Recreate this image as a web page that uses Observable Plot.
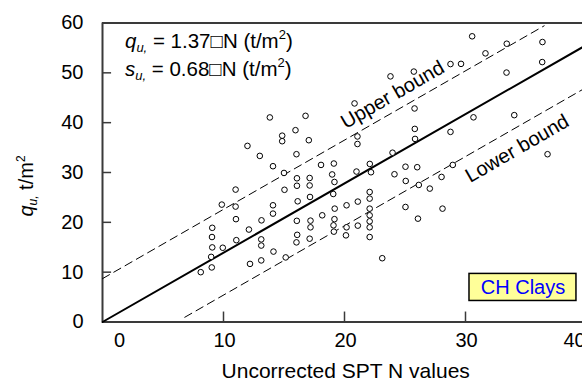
<!DOCTYPE html>
<html>
<head>
<meta charset="utf-8">
<script src="https://cdn.jsdelivr.net/npm/d3@7"></script>
<script src="https://cdn.jsdelivr.net/npm/@observablehq/plot@0.6"></script>
<style>
  html, body { margin: 0; padding: 0; background: #fff; overflow: hidden; }
  #chart { width: 582px; height: 385px; overflow: hidden; }
</style>
</head>
<body>
<div id="chart"></div>
<script>
// Uncorrected SPT N values (x) and unconfined compressive strength q_u (t/m2)
const sptN = [
  8.12, 9.03, 8.98, 9.07, 9.05, 9.07, 9.94, 9.86, 11.0, 11.03,
  11.06, 11.0, 12.1, 12.19, 11.98, 13.12, 13.12, 13.12, 13.14, 13.0,
  13.83, 14.09, 14.09, 14.09, 14.13, 14.85, 14.85, 15.0, 15.04, 15.14,
  15.95, 16.03, 16.07, 16.07, 16.13, 16.06, 16.09, 16.03, 16.78, 17.05,
  17.12, 17.12, 17.15, 17.19, 17.19, 17.12, 18.06, 18.16, 19.12, 18.98,
  19.17, 19.07, 19.19, 19.17, 19.09, 19.12, 20.17, 20.17, 20.12, 20.83,
  21.07, 21.07, 20.99, 21.1, 21.1, 22.09, 22.19, 22.08, 22.08, 22.08,
  22.08, 22.08, 22.08, 22.08, 23.12, 23.8, 23.97, 24.13, 25.04, 25.06,
  25.04, 25.73, 25.79, 25.81, 25.83, 26.01, 26.14, 26.07, 27.05, 28.02,
  28.1, 28.76, 29.63, 28.76, 28.95, 30.55, 30.66, 31.65, 33.41, 33.39,
  34.03, 36.36, 36.34, 36.78
];
const quValues = [
  10.0, 10.95, 13.07, 14.97, 17.05, 18.9, 14.9, 23.56, 23.16, 20.64,
  16.42, 26.57, 18.55, 11.66, 35.34, 12.36, 15.34, 16.58, 20.4, 33.33,
  41.05, 31.26, 23.42, 21.75, 14.13, 37.39, 36.28, 29.91, 26.53, 12.96,
  38.49, 33.67, 28.84, 27.34, 24.22, 20.3, 17.49, 15.98, 41.37, 36.48,
  28.9, 27.4, 25.09, 20.34, 19.0, 16.72, 31.52, 21.41, 31.8, 29.61,
  28.1, 25.69, 22.75, 20.64, 19.4, 18.13, 23.42, 19.0, 17.39, 43.86,
  37.23, 35.72, 30.19, 24.16, 19.34, 31.72, 30.05, 26.09, 24.76, 22.75,
  21.41, 20.2, 19.0, 17.05, 12.8, 49.29, 33.97, 29.65, 31.16, 28.3,
  23.08, 50.25, 42.85, 38.75, 36.74, 31.06, 27.5, 20.74, 26.77, 29.11,
  22.75, 51.76, 51.8, 38.15, 31.52, 57.33, 41.07, 53.91, 55.84, 50.05,
  41.51, 56.18, 52.16, 33.67
];

// Trend line and bounds as drawn (q = slope * N + offset)
const lineSlope = 1.39;
const upperOffset = 8.7;
const lowerOffset = -8.5;
const solidN = [0, 40];
const upperN = [0, 36.5];
const lowerN = [6.8, 40];

// Tick values / labels
const xTicks = [10, 20, 30];
const xZeroTick = [0];
const xLastTick = [40];
const yTicks = [0, 10, 20, 30, 40, 50, 60];
const xTickMarks = [10, 20, 30, 40];
const yTickMarks = [10, 20, 30, 40, 50];

const xLabel = "Uncorrected SPT N values";
const legendLabel = "CH Clays";
const upperLabel = "Upper bound";
const lowerLabel = "Lower bound";

const FONT = "'Liberation Sans', Arial, Helvetica, sans-serif";
const FS = 20;
const AXIS = "#3a3a3a";

const points = sptN.map((n, i) => ({N: n, q: quValues[i]}));
const mkLine = (ns, off) => ns.map(n => ({N: n, q: lineSlope * n + off}));

const tickText = {y: 0, text: d => String(d), dy: 19, lineAnchor: "middle", fontSize: FS, fill: "#000"};

const plot = Plot.plot({
  width: 620,
  height: 385,
  marginLeft: 102,
  marginRight: 34,
  marginTop: 22.5,
  marginBottom: 63.5,
  x: {domain: [0, 40], axis: null},
  y: {domain: [0, 60], axis: null},
  style: {fontFamily: FONT, maxWidth: "none", background: "transparent"},
  marks: [
    // frame
    Plot.ruleX([0], {stroke: AXIS, strokeWidth: 2}),
    Plot.ruleY([0], {stroke: AXIS, strokeWidth: 2}),
    Plot.ruleY([60], {stroke: AXIS, strokeWidth: 2}),
    // inward tick marks
    Plot.ruleY(yTickMarks, {y: d => d, x1: 0, x2: 0.75, stroke: AXIS, strokeWidth: 1.5}),
    Plot.ruleX(xTickMarks, {x: d => d, y1: 0, y2: 2, stroke: AXIS, strokeWidth: 1.5}),
    // tick labels
    Plot.text(yTicks, {x: 0, y: d => d, text: d => String(d), dx: -19, textAnchor: "end", lineAnchor: "middle", fontSize: FS, fill: "#000"}),
    Plot.text(xTicks, {...tickText, x: d => d, dx: 1}),
    Plot.text(xZeroTick, {...tickText, x: d => d, dx: 17}),
    Plot.text(xLastTick, {...tickText, x: d => d, dx: -12}),
    // lines
    Plot.line(mkLine(upperN, upperOffset), {x: "N", y: "q", stroke: "#000", strokeWidth: 1, strokeDasharray: "8,5"}),
    Plot.line(mkLine(lowerN, lowerOffset), {x: "N", y: "q", stroke: "#000", strokeWidth: 1, strokeDasharray: "8,5"}),
    Plot.line(mkLine(solidN, 0), {x: "N", y: "q", stroke: "#000", strokeWidth: 2}),
    // data points
    Plot.dot(points, {x: "N", y: "q", r: 2.8, stroke: "#000", strokeWidth: 1, fill: "#fff"}),
    // bound labels
    Plot.text([upperLabel], {x: 23.97, y: 45.6, text: d => d, rotate: -30, fontSize: FS, fill: "#000", lineAnchor: "middle"}),
    Plot.text([lowerLabel], {x: 34.27, y: 34.8, text: d => d, rotate: -30, fontSize: FS, fill: "#000", lineAnchor: "middle"}),
    // legend box
    Plot.rect([legendLabel], {x1: 30.33, x2: 39.17, y1: 4.22, y2: 9.65, fill: "#ffff99", stroke: "#000", strokeWidth: 1.5}),
    Plot.text([legendLabel], {x: 34.75, y: 6.93, text: d => d, fontSize: FS, fill: "#0000ff", lineAnchor: "middle"}),
    // x axis label
    Plot.text([xLabel], {x: 20.1, y: 0, text: d => d, dy: 49, fontSize: 21, fill: "#000", lineAnchor: "middle"})
  ]
});

document.getElementById("chart").appendChild(plot);

// Rich-text annotations (italic q with subscript, superscripts)
const sx = plot.scale("x"), sy = plot.scale("y");
const svg = d3.select(plot);

function richLine(g, letter, rest, x, y) {
  const t = g.append("text")
    .attr("x", x).attr("y", y)
    .attr("text-anchor", "start")
    .attr("font-family", FONT).attr("font-size", 20.5).attr("fill", "#000");
  t.append("tspan").attr("font-style", "italic").text(letter);
  t.append("tspan").attr("font-style", "italic").attr("font-size", 13).attr("dy", 4).text("u,");
  t.append("tspan").attr("dy", -4).text(" = 1" === rest.slice(0, 4) ? rest : rest);
  t.append("tspan").attr("font-size", 13).attr("dy", -9).text("2");
  t.append("tspan").attr("dy", 9).text(")");
  return t;
}
const ann = svg.append("g");
richLine(ann, "q", " = 1.37\u25A1N (t/m", sx.apply(1.9), sy.apply(54.8));
richLine(ann, "s", " = 0.68\u25A1N (t/m", sx.apply(1.9), sy.apply(49.3));

// y axis label
const yl = svg.append("text")
  .attr("transform", `translate(33,186) rotate(-90)`)
  .attr("text-anchor", "middle")
  .attr("font-family", FONT).attr("font-size", FS).attr("fill", "#000");
yl.append("tspan").attr("font-style", "italic").text("q");
yl.append("tspan").attr("font-style", "italic").attr("font-size", 12).attr("dy", 4).text("u,");
yl.append("tspan").attr("dy", -4).text(" t/m");
yl.append("tspan").attr("font-size", 12).attr("dy", -8).text("2");
</script>
</body>
</html>
